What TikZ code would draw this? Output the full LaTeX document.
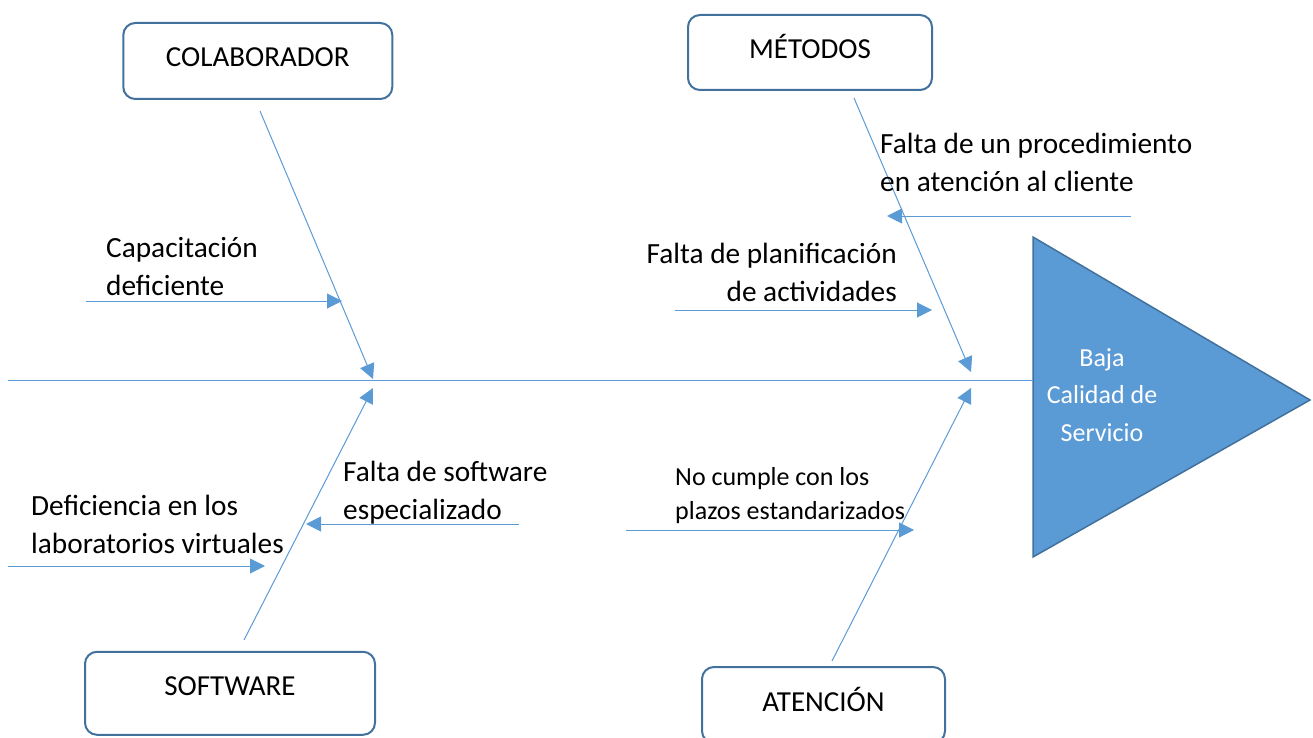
\documentclass[tikz,border=0pt]{standalone}
\usepackage{fontspec}
\setmainfont{Carlito}
\usetikzlibrary{arrows.meta}
\definecolor{bone color}{HTML}{5B9BD5}
\definecolor{frame color}{HTML}{41719C}
\tikzset{
    x={1pt},
    y={-1pt},
    category/.style={
        draw=frame color,
        line width={2pt},
        rounded corners={12pt},
        align=center,
        font={\fontsize{29}{37}\selectfont},
        text height={19pt},
        minimum width={#1},
    },
    category/.default={240},
    spine/.style={
        draw=bone color,
        line width={1.2pt},
    },
    bone/.style={
        draw=bone color,
        line width={1pt},
        -{Triangle[length=15pt,width=15pt]},
    },
    cause/.style={
        align=left,
        anchor=base west,
        inner sep=0pt,
        font={\fontsize{29.3}{38}\selectfont},
    },
    small cause/.style={
        cause,
        font={\fontsize{26}{34}\selectfont},
    },
    effect head/.style={
        fill=bone color,
        draw=frame color,
        line width={1.5pt},
        line join=miter,
    },
    effect label/.style={
        align=center,
        text=white,
        inner sep=0pt,
        font={\fontsize{26}{37.5}\selectfont},
    },
}

\begin{document}
\begin{tikzpicture}
\useasboundingbox (0,0) rectangle (1313,738);
% categories
\node[category={269}, minimum height={76}, text depth={7pt}] (colab) at (257.8,61) {COLABORADOR};
\node[category={244}, minimum height={75}, text depth={7.4pt}] (metodos) at (810,52.5) {MÉTODOS};
\node[category={290}, minimum height={83}, text depth={15pt}] (software) at (230,693.3) {SOFTWARE};
\node[category={243}, minimum height={76}, text depth={7pt}] (atencion) at (823.5,705) {ATENCIÓN};
% effect
\path[effect head] (1033,237) -- (1310,400) -- (1033,557) -- cycle;
\node[effect label] (effect) at (1102,395) {Baja\\Calidad de\\Servicio};
% spine
\coordinate (tail) at (8,380.5);
\coordinate (head) at (1033,380.5);
\path[spine] (tail) -- (head);
% bones
\coordinate (colab end) at (260,111);
\coordinate (colab tip) at (373,379);
\coordinate (metodos end) at (854,98);
\coordinate (metodos tip) at (971,372);
\coordinate (software end) at (244,640);
\coordinate (software tip) at (373,388);
\coordinate (atencion end) at (832,661);
\coordinate (atencion tip) at (971,388);
\path[bone] (colab end) -- (colab tip);
\path[bone] (metodos end) -- (metodos tip);
\path[bone] (software end) -- (software tip);
\path[bone] (atencion end) -- (atencion tip);
% causes (base is the last line)
\node[cause] (capacitacion) at (106,295) {Capacitación\\deficiente};
\node[cause, anchor=base east, align=right] (planificacion) at (897,301) {Falta de planificación\\de actividades};
\node[cause] (procedimiento) at (880,192) {Falta de un procedimiento\\en atención al cliente};
\node[cause] (especializado) at (343,519) {Falta de software\\especializado};
\node[cause] (laboratorios) at (31,553) {Deficiencia en los\\laboratorios virtuales};
\node[small cause] (plazos) at (675,519) {No cumple con los\\plazos estandarizados};
% cause arrows
\coordinate (capacitacion start) at (86,301);
\coordinate (capacitacion tip) at (342,301);
\coordinate (planificacion start) at (675,310);
\coordinate (planificacion tip) at (932,310);
\coordinate (procedimiento start) at (1131,216);
\coordinate (procedimiento tip) at (887,216);
\coordinate (especializado start) at (519,524);
\coordinate (especializado tip) at (306,524);
\coordinate (laboratorios start) at (8,566);
\coordinate (laboratorios tip) at (265,566);
\coordinate (plazos start) at (626,530);
\coordinate (plazos tip) at (914,530);
\path[bone] (capacitacion start) -- (capacitacion tip);
\path[bone] (planificacion start) -- (planificacion tip);
\path[bone] (procedimiento start) -- (procedimiento tip);
\path[bone] (especializado start) -- (especializado tip);
\path[bone] (laboratorios start) -- (laboratorios tip);
\path[bone] (plazos start) -- (plazos tip);
\end{tikzpicture}
\end{document}
